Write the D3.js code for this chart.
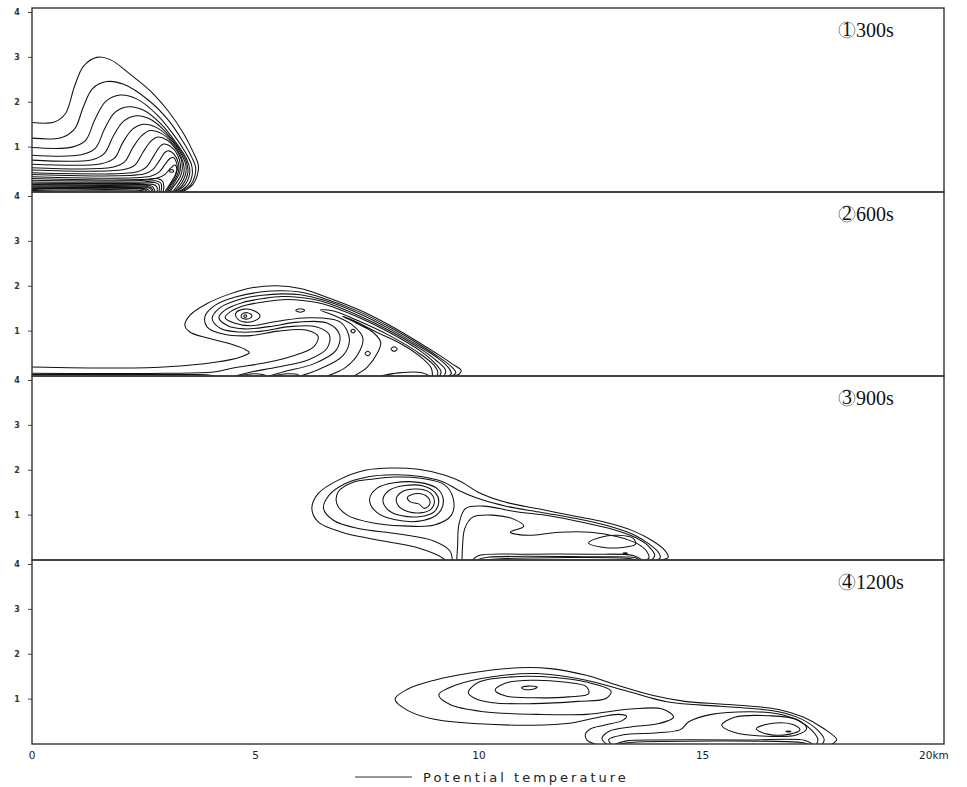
<!DOCTYPE html>
<html>
<head>
<meta charset="utf-8">
<script src="https://cdn.jsdelivr.net/npm/d3@7"></script>
<style>
  body { margin: 0; background: #fff; }
  .contour { fill: none; stroke: #111; stroke-width: 1.05; }
  .tickLbl { font-family: "DejaVu Sans", sans-serif; font-size: 8px; font-weight: bold; fill: #333; }
  .xLbl { font-family: "DejaVu Sans", sans-serif; font-size: 10.5px; fill: #222; }
  .timeLbl { font-family: "Liberation Serif", serif; font-size: 20px; fill: #111; }
</style>
</head>
<body>
<div id="chart"></div>
<script>
var svgWidth = 967;
var svgHeight = 787;

// axes
var xTicks = [0, 5, 10, 15, 20];
var xTickLabels = ["0", "5", "10", "15", "20km"];
var yTicks = [1, 2, 3, 4];
var panelNums = ["1", "2", "3", "4"];
var panelTimes = ["300s", "600s", "900s", "1200s"];

// contour lines, [x km, z km]
// 300 s
var p1Lines = [
  [[0,1.55],[0.5,1.56],[0.75,1.75],[0.95,2.35],[1.15,2.8],[1.45,3.0],[1.75,2.95],[2.2,2.62],[2.65,2.25],[3.05,1.8],[3.38,1.32],[3.6,0.9],[3.72,0.6],[3.7,0.38],[3.6,0.17],[3.45,0.05],[3.35,0]],
  [[0,1.2],[0.65,1.21],[0.95,1.4],[1.15,1.9],[1.35,2.3],[1.67,2.46],[2.05,2.4],[2.6,2.05],[3.05,1.6],[3.38,1.12],[3.58,0.76],[3.66,0.55],[3.64,0.35],[3.55,0.16],[3.4,0.05],[3.3,0]],
  [[0,0.99],[0.9,1.0],[1.2,1.15],[1.4,1.6],[1.65,2.02],[1.97,2.16],[2.35,2.07],[2.8,1.72],[3.15,1.3],[3.42,0.9],[3.57,0.6],[3.58,0.36],[3.5,0.17],[3.36,0.05],[3.26,0]],
  [[0,0.82],[1.1,0.83],[1.42,0.98],[1.62,1.4],[1.85,1.77],[2.16,1.9],[2.5,1.82],[2.9,1.5],[3.22,1.1],[3.45,0.75],[3.53,0.5],[3.51,0.33],[3.43,0.17],[3.31,0.06],[3.22,0]],
  [[0,0.71],[1.35,0.72],[1.62,0.86],[1.82,1.25],[2.05,1.58],[2.34,1.7],[2.65,1.62],[3.0,1.33],[3.28,0.98],[3.45,0.68],[3.49,0.46],[3.45,0.3],[3.37,0.16],[3.27,0.06],[3.18,0]],
  [[0,0.62],[1.55,0.63],[1.85,0.76],[2.03,1.1],[2.25,1.4],[2.49,1.51],[2.78,1.44],[3.08,1.2],[3.32,0.88],[3.44,0.6],[3.44,0.42],[3.39,0.28],[3.31,0.15],[3.23,0.06],[3.15,0]],
  [[0,0.54],[1.8,0.55],[2.07,0.67],[2.25,0.98],[2.45,1.25],[2.64,1.37],[2.9,1.3],[3.15,1.08],[3.33,0.8],[3.4,0.56],[3.39,0.4],[3.33,0.26],[3.25,0.14],[3.18,0.05],[3.12,0]],
  [[0,0.49],[2.05,0.5],[2.3,0.6],[2.48,0.88],[2.65,1.12],[2.79,1.22],[3.02,1.16],[3.22,0.95],[3.34,0.72],[3.36,0.5],[3.32,0.35],[3.24,0.22],[3.15,0.1],[3.09,0]],
  [[0,0.43],[2.3,0.44],[2.55,0.55],[2.72,0.8],[2.85,1.0],[2.94,1.07],[3.12,1.0],[3.26,0.82],[3.32,0.6],[3.3,0.42],[3.22,0.27],[3.13,0.12],[3.06,0]],
  [[0,0.39],[2.5,0.4],[2.7,0.5],[2.85,0.7],[2.97,0.88],[3.05,0.92],[3.18,0.84],[3.27,0.66],[3.28,0.47],[3.21,0.3],[3.1,0.13],[3.03,0]],
  [[0,0.34],[2.65,0.35],[2.85,0.45],[2.98,0.62],[3.08,0.74],[3.16,0.77],[3.23,0.66],[3.25,0.5],[3.19,0.32],[3.08,0.14],[3.0,0]],
  [[0,0.3],[2.8,0.31],[2.98,0.4],[3.1,0.53],[3.2,0.6],[3.24,0.52],[3.2,0.37],[3.1,0.2],[3.02,0.08],[2.97,0]],
  [[0,0.26],[2.5,0.26],[2.8,0.3],[2.92,0.24],[2.95,0.12],[2.93,0]],
  [[0,0.225],[2.5,0.225],[2.76,0.25],[2.88,0.2],[2.9,0.1],[2.88,0]],
  [[0,0.195],[2.5,0.195],[2.74,0.21],[2.84,0.16],[2.84,0]],
  [[0,0.165],[2.5,0.165],[2.7,0.17],[2.79,0.12],[2.8,0]],
  [[0,0.14],[2.5,0.14],[2.68,0.13],[2.76,0]],
  [[0,0.115],[2.5,0.115],[2.66,0.1],[2.72,0]],
  [[0,0.095],[2.5,0.095],[2.64,0.08],[2.68,0]],
  [[0,0.075],[2.5,0.075],[2.6,0.05],[2.64,0]],
  [[0,0.055],[2.52,0.05],[2.6,0]],
  [[0,0.035],[2.48,0.03],[2.55,0]],
  [[0,0.018],[2.44,0.015],[2.5,0]]
];
var p1Loops = [
  [[3.07,0.47],[3.12,0.44],[3.17,0.46],[3.13,0.5]]
];

// 600 s
var p2Lines = [
  [[0,0.2],[2.27,0.18],[3.39,0.23],[4.13,0.31],[4.65,0.42],[4.86,0.52],[4.73,0.61],[4.43,0.72],[3.91,0.85],[3.53,0.98],[3.42,1.13],[3.53,1.35],[3.91,1.61],[4.43,1.83],[4.95,1.97],[5.47,2.01],[6.0,1.95],[6.5,1.79],[7.3,1.48],[8.0,1.13],[8.7,0.72],[9.1,0.47],[9.4,0.27],[9.6,0.12],[9.55,0.04],[9.4,0]],
  [[0,0.06],[3.0,0.06],[4.06,0.09],[4.5,0.18],[5.25,0.3],[5.85,0.45],[6.3,0.65],[6.4,0.88],[6.15,1.02],[5.5,1.0],[4.9,0.9],[4.3,0.93],[3.92,1.09],[3.87,1.33],[4.1,1.58],[4.55,1.76],[5.1,1.87],[5.6,1.9],[6.0,1.87],[6.5,1.74],[7.3,1.44],[8.0,1.09],[8.7,0.68],[9.1,0.42],[9.38,0.21],[9.48,0.07],[9.38,0]],
  [[4.55,0],[4.9,0.09],[5.5,0.2],[6.2,0.37],[6.6,0.62],[6.65,0.92],[6.35,1.1],[5.75,1.1],[5.15,1.0],[4.65,0.98],[4.22,1.06],[4.03,1.28],[4.2,1.52],[4.62,1.7],[5.15,1.8],[5.6,1.83],[6.0,1.81],[6.5,1.7],[7.3,1.4],[8.0,1.05],[8.7,0.64],[9.1,0.38],[9.32,0.18],[9.38,0.05],[9.3,0]],
  [[5.3,0],[5.65,0.1],[6.3,0.27],[6.8,0.57],[6.88,0.92],[6.6,1.18],[5.95,1.2],[5.3,1.1],[4.75,1.05],[4.38,1.12],[4.18,1.3],[4.33,1.48],[4.72,1.64],[5.2,1.73],[5.6,1.77],[6.0,1.75],[6.5,1.66],[7.3,1.35],[8.0,1.01],[8.7,0.6],[9.05,0.34],[9.25,0.13],[9.22,0]],
  [[6.0,0],[6.4,0.14],[6.95,0.45],[7.1,0.82],[6.9,1.2],[6.2,1.3],[5.5,1.22],[4.9,1.12],[4.52,1.18],[4.32,1.3],[4.45,1.44],[4.8,1.58],[5.25,1.66],[5.6,1.7],[6.0,1.69],[6.5,1.61],[7.3,1.31],[8.0,0.97],[8.7,0.55],[9.0,0.3],[9.15,0.1],[9.12,0]],
  [[6.6,0],[7.0,0.18],[7.3,0.5],[7.4,0.85],[7.15,1.15],[6.8,1.33],[6.45,1.47],[6.75,1.45],[7.3,1.23],[8.0,0.9],[8.7,0.48],[9.0,0.23],[9.08,0.06],[9.05,0]],
  [[7.2,0],[7.5,0.2],[7.72,0.5],[7.8,0.75],[7.62,0.98],[7.25,1.18],[6.95,1.33],[7.2,1.23],[7.7,0.98],[8.25,0.72],[8.7,0.42],[8.93,0.18],[8.96,0]],
  [[7.8,0],[8.2,0.07],[8.7,0.08],[8.9,0]],
  [[0,0.035],[3.5,0.035],[3.9,0.03],[4.1,0]],
  [[4.62,0],[4.95,0.05],[5.18,0.03],[5.25,0]],
  [[5.38,0],[5.7,0.05],[5.95,0.03],[5.97,0]]
];
var p2Loops = [
  [[4.78,1.2],[5.0,1.24],[5.1,1.34],[4.98,1.45],[4.75,1.49],[4.56,1.4],[4.6,1.27]],
  [[4.76,1.27],[4.88,1.29],[4.92,1.35],[4.82,1.41],[4.7,1.38],[4.68,1.31]],
  [[4.75,1.31],[4.8,1.32],[4.79,1.36],[4.74,1.35]],
  [[7.13,1.0],[7.18,0.96],[7.23,1.0],[7.18,1.04]],
  [[8.03,0.6],[8.1,0.55],[8.17,0.6],[8.1,0.65]],
  [[7.45,0.5],[7.51,0.45],[7.57,0.5],[7.51,0.55]],
  [[5.9,1.46],[6.0,1.42],[6.1,1.46],[6.0,1.5]]
];

// 900 s
var p3Lines = [
  [[9.25,0],[9.09,0.1],[8.57,0.29],[7.6,0.47],[6.93,0.62],[6.4,0.85],[6.26,1.14],[6.4,1.48],[6.85,1.78],[7.45,2.0],[8.05,2.05],[8.64,2.02],[9.24,1.89],[9.61,1.74],[9.98,1.51],[10.58,1.29],[11.33,1.14],[12.07,0.99],[12.82,0.84],[13.42,0.66],[13.86,0.44],[14.16,0.21],[14.23,0.06],[14.08,0]],
  [[9.4,0],[9.35,0.2],[9.0,0.42],[8.2,0.58],[7.3,0.7],[6.75,0.88],[6.52,1.15],[6.65,1.45],[7.0,1.7],[7.5,1.85],[8.1,1.9],[8.7,1.86],[9.2,1.74],[9.55,1.55],[9.95,1.38],[10.6,1.2],[11.4,1.06],[12.2,0.92],[12.9,0.76],[13.45,0.57],[13.8,0.36],[14.02,0.16],[14.05,0.04],[13.95,0]],
  [[9.5,0],[9.52,0.3],[9.55,0.8],[9.7,1.15],[10.1,1.2],[10.8,1.08],[11.6,0.98],[12.3,0.84],[13.0,0.68],[13.5,0.5],[13.8,0.3],[13.93,0.1],[13.86,0]],
  [[9.62,0],[9.63,0.3],[9.68,0.7],[9.85,0.95],[10.3,1.0],[10.8,0.9],[11.0,0.75],[10.7,0.62],[11.1,0.55],[11.8,0.62],[12.5,0.62],[13.1,0.52],[13.55,0.36],[13.76,0.18],[13.8,0.05],[13.74,0]],
  [[9.85,0],[10.0,0.1],[11.0,0.13],[12.5,0.13],[13.45,0.1],[13.65,0]],
  [[9.95,0],[10.2,0.06],[12.5,0.07],[13.5,0.05],[13.58,0]],
  [[10.1,0],[10.5,0.03],[13.4,0.03],[13.5,0]]
];
var p3Loops = [
  [[7.6,1.8],[7.2,1.74],[6.85,1.52],[6.82,1.25],[7.05,1.0],[7.6,0.83],[8.3,0.76],[9.0,0.78],[9.38,1.0],[9.42,1.38],[9.22,1.68],[8.7,1.82],[8.1,1.85]],
  [[7.55,1.35],[7.72,1.6],[8.1,1.72],[8.65,1.73],[9.05,1.6],[9.2,1.35],[9.1,1.05],[8.75,0.88],[8.1,0.9],[7.7,1.07]],
  [[7.85,1.35],[8.0,1.56],[8.35,1.66],[8.75,1.65],[9.02,1.5],[9.1,1.3],[9.0,1.08],[8.7,0.97],[8.25,0.99],[7.95,1.13]],
  [[8.15,1.37],[8.28,1.52],[8.6,1.58],[8.9,1.5],[9.0,1.32],[8.92,1.13],[8.68,1.05],[8.4,1.08],[8.2,1.2]],
  [[8.4,1.4],[8.62,1.48],[8.85,1.4],[8.9,1.25],[8.78,1.15],[8.65,1.25],[8.45,1.3]],
  [[12.45,0.38],[12.7,0.5],[13.1,0.55],[13.45,0.48],[13.5,0.35],[13.2,0.28],[12.8,0.28]],
  [[13.22,0.15],[13.27,0.14],[13.32,0.15],[13.27,0.16]]
];

// 1200 s
var p4Lines = [
  [[12.6,0],[12.42,0.08],[12.38,0.22],[12.5,0.34],[12.8,0.42],[13.2,0.52],[13.3,0.62],[13.12,0.66],[12.6,0.58],[12.07,0.47],[11.2,0.42],[10.0,0.45],[9.0,0.55],[8.4,0.75],[8.12,1.0],[8.4,1.22],[9.0,1.42],[9.8,1.58],[10.9,1.7],[11.6,1.68],[12.4,1.53],[13.1,1.31],[13.9,1.08],[14.6,0.95],[15.4,0.89],[16.1,0.84],[16.7,0.77],[17.25,0.6],[17.7,0.35],[18.0,0.1],[17.9,0]],
  [[12.85,0],[12.75,0.12],[12.9,0.28],[13.4,0.38],[14.0,0.45],[14.35,0.6],[14.1,0.78],[13.4,0.78],[12.4,0.66],[11.3,0.66],[10.1,0.72],[9.35,0.88],[9.1,1.1],[9.5,1.32],[10.3,1.5],[11.3,1.57],[12.4,1.42],[13.3,1.18],[14.2,0.94],[15.4,0.84],[16.1,0.79],[16.7,0.72],[17.2,0.56],[17.55,0.33],[17.72,0.1],[17.68,0]],
  [[12.95,0],[12.9,0.1],[13.2,0.2],[14.0,0.25],[14.5,0.32],[14.7,0.5],[15.2,0.66],[16.1,0.72],[16.7,0.67],[17.15,0.52],[17.45,0.3],[17.58,0.1],[17.55,0]],
  [[13.05,0],[13.3,0.07],[14,0.09],[16,0.09],[17.3,0.08],[17.45,0]],
  [[13.15,0],[13.4,0.035],[17.2,0.035],[17.35,0]]
];
var p4Loops = [
  [[9.76,1.15],[10.0,1.38],[10.8,1.5],[11.7,1.48],[12.4,1.38],[12.95,1.18],[12.85,1.02],[12.2,0.95],[11.2,0.9],[10.3,0.92],[9.9,1.02]],
  [[10.36,1.2],[10.6,1.36],[11.2,1.42],[11.9,1.38],[12.4,1.28],[12.45,1.12],[12.0,1.05],[11.2,1.03],[10.6,1.07]],
  [[10.95,1.25],[11.1,1.29],[11.3,1.27],[11.2,1.22],[11.0,1.22]],
  [[15.43,0.42],[15.73,0.6],[16.47,0.63],[17.1,0.55],[17.33,0.35],[17.1,0.2],[16.3,0.18],[15.7,0.26]],
  [[16.2,0.34],[16.5,0.45],[17.0,0.44],[17.18,0.32],[16.95,0.22],[16.45,0.22]],
  [[16.86,0.28],[16.92,0.27],[16.98,0.28],[16.92,0.29]]
];

var panels = [
  { lines: p1Lines, loops: p1Loops },
  { lines: p2Lines, loops: p2Loops },
  { lines: p3Lines, loops: p3Loops },
  { lines: p4Lines, loops: p4Loops }
];

var panelTop = 8;
var panelHeight = 184;

var svg = d3.select("#chart")
  .append("svg")
  .attr("width", svgWidth)
  .attr("height", svgHeight)
  .style("background", "#fff");

var xScale = d3.scaleLinear()
  .domain([0, 20.4])
  .range([32, 944]);

panels.forEach(function(p, i) {
  var top = panelTop + i * panelHeight;
  var yScale = d3.scaleLinear()
    .domain([0, 4.1])
    .range([top + panelHeight, top]);

  svg.append("clipPath")
    .attr("id", "clip" + i)
    .append("rect")
    .attr("x", 32).attr("y", top)
    .attr("width", 912).attr("height", panelHeight);

  var g = svg.append("g").attr("clip-path", "url(#clip" + i + ")");

  var openLine = d3.line()
    .x(d => xScale(d[0]))
    .y(d => yScale(d[1]))
    .curve(d3.curveCatmullRom.alpha(0.5));

  var closedLine = d3.line()
    .x(d => xScale(d[0]))
    .y(d => yScale(d[1]))
    .curve(d3.curveCatmullRomClosed.alpha(0.5));

  g.selectAll("path.open")
    .data(p.lines)
    .enter()
    .append("path")
    .attr("class", "contour open")
    .attr("d", openLine);

  g.selectAll("path.closed")
    .data(p.loops)
    .enter()
    .append("path")
    .attr("class", "contour closed")
    .attr("d", closedLine);

  // left axis: small ticks, labels 1..4
  var yAxis = svg.append("g");
  yAxis.selectAll("line")
    .data(yTicks)
    .enter()
    .append("line")
    .attr("x1", 28).attr("x2", 32)
    .attr("y1", d => yScale(d)).attr("y2", d => yScale(d))
    .attr("stroke", "#444").attr("stroke-width", 1);
  yAxis.selectAll("text")
    .data(yTicks)
    .enter()
    .append("text")
    .attr("class", "tickLbl")
    .attr("x", 17)
    .attr("y", d => yScale(d) + 3)
    .attr("text-anchor", "middle")
    .text(d => d);

  svg.append("rect")
    .attr("x", 32).attr("y", top)
    .attr("width", 912).attr("height", panelHeight)
    .attr("fill", "none")
    .attr("stroke", "#333")
    .attr("stroke-width", 1.4);

  // time label with circled number
  var lx = 847, ly = top + 29;
  svg.append("circle")
    .attr("cx", lx).attr("cy", ly - 7)
    .attr("r", 8)
    .attr("fill", "none")
    .attr("stroke", "#888")
    .attr("stroke-width", 0.9);
  svg.append("text")
    .attr("class", "timeLbl")
    .attr("x", lx).attr("y", ly - 1.5)
    .attr("text-anchor", "middle")
    .attr("font-size", "15px")
    .attr("fill", "#444")
    .text(panelNums[i]);
  svg.append("text")
    .attr("class", "timeLbl")
    .attr("x", lx + 9).attr("y", ly)
    .text(panelTimes[i]);
});

// bottom labels
svg.selectAll("text.xLbl")
  .data(xTicks)
  .enter()
  .append("text")
  .attr("class", "xLbl")
  .attr("x", d => xScale(d))
  .attr("dx", (d, i) => i === xTicks.length - 1 ? -7 : 0)
  .attr("y", 759)
  .attr("text-anchor", (d, i) => i === xTicks.length - 1 ? "start" : "middle")
  .text((d, i) => xTickLabels[i]);

// legend
svg.append("line")
  .attr("x1", 355).attr("x2", 412)
  .attr("y1", 777).attr("y2", 777)
  .attr("stroke", "#333")
  .attr("stroke-width", 1.2);
svg.append("text")
  .attr("x", 423).attr("y", 781.5)
  .attr("font-family", "DejaVu Sans, sans-serif")
  .attr("font-size", "13px")
  .attr("letter-spacing", "3px")
  .attr("fill", "#222")
  .text("Potential temperature");
</script>
</body>
</html>
